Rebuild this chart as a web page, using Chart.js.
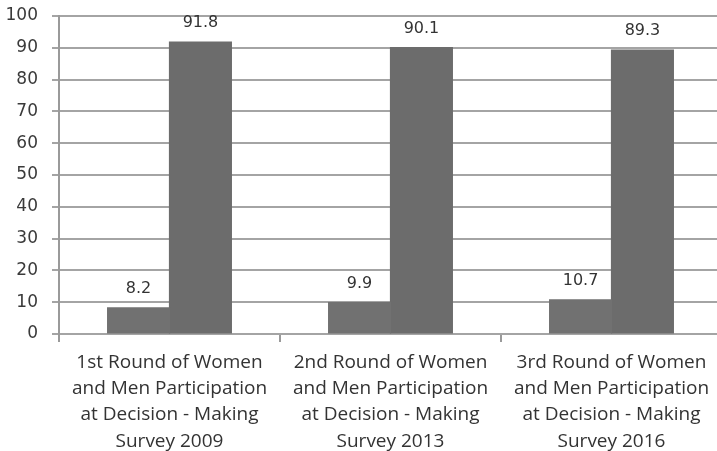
<!DOCTYPE html>
<html>
<head>
<meta charset="utf-8">
<script src="https://cdn.jsdelivr.net/npm/chart.js@4"></script>
<style>
  html, body { margin: 0; padding: 0; background: #fff; overflow: hidden; }
  #wrap { width: 724px; height: 451px; }
</style>
</head>
<body>
<div id="wrap"><canvas id="c" width="724" height="451"></canvas></div>
<script>
// Survey rounds (category labels, split into lines)
const categories = [
  ["1st Round of Women", "and Men Participation", "at Decision - Making", "Survey 2009"],
  ["2nd Round of Women", "and Men Participation", "at Decision - Making", "Survey 2013"],
  ["3rd Round of Women", "and Men Participation", "at Decision - Making", "Survey 2016"]
];
// Participation shares (%)
const women = [8.2, 9.9, 10.7];
const men = [91.8, 90.1, 89.3];
const yTicks = [0, 10, 20, 30, 40, 50, 60, 70, 80, 90, 100];

// Writes each bar's value just above it
const valueLabels = {
  id: 'valueLabels',
  afterDatasetsDraw(chart) {
    const ctx = chart.ctx;
    ctx.save();
    ctx.font = '16px "DejaVu Sans"';
    ctx.fillStyle = '#333';
    ctx.textAlign = 'center';
    ctx.textBaseline = 'middle';
    chart.data.datasets.forEach((ds, di) => {
      const meta = chart.getDatasetMeta(di);
      meta.data.forEach((bar, i) => {
        ctx.fillText(ds.data[i].toFixed(1), bar.x, bar.y - 19);
      });
    });
    ctx.restore();
  }
};

new Chart(document.getElementById('c'), {
  type: 'bar',
  data: {
    labels: categories,
    datasets: [
      { label: 'Women', data: women, backgroundColor: '#717171', categoryPercentage: 0.56, barPercentage: 1, inflateAmount: 0.6 },
      { label: 'Men', data: men, backgroundColor: '#6c6c6c', categoryPercentage: 0.56, barPercentage: 1, inflateAmount: 0.6 }
    ]
  },
  options: {
    responsive: false,
    animation: false,
    layout: { padding: { top: 16, right: 2, left: 0, bottom: 0 } },
    plugins: { legend: { display: false }, tooltip: { enabled: false } },
    scales: {
      x: {
        grid: { display: true, drawOnChartArea: false, color: '#9a9a9a', lineWidth: 2, tickLength: 8, offset: true },
        border: { display: false },
        ticks: { color: '#333', font: { family: 'Open Sans', size: 19, lineHeight: 1.37 }, maxRotation: 0, autoSkip: false, padding: 8 },
        afterFit(scale) { scale.height = 117; }
      },
      y: {
        min: 0, max: 100,
        afterBuildTicks(scale) { scale.ticks = yTicks.map(v => ({ value: v })); },
        grid: { color: '#a4a4a4', lineWidth: 2, tickLength: 7 },
        border: { display: true, color: '#9a9a9a', width: 2 },
        ticks: { color: '#3a3a3a', font: { family: 'DejaVu Sans', size: 17 }, padding: 14 },
        afterFit(scale) {
          scale.width = 59;
          scale.paddingTop = 0;
          scale.paddingBottom = 0;
        }
      }
    }
  },
  plugins: [valueLabels]
});
</script>
</body>
</html>
